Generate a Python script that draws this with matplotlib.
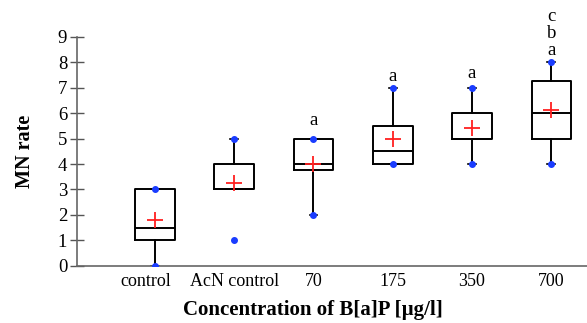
import matplotlib
matplotlib.use("Agg")
import matplotlib.pyplot as plt
from matplotlib.transforms import ScaledTranslation

categories = ['control', 'AcN control', '70', '175', '350', '700']
q1 = [1, 3, 3.75, 4, 5, 5]
medians = [1.5, 3, 4, 4.5, 5, 6]
q3 = [3, 4, 5, 5.5, 6, 7.25]
whis_lo = [0, 3, 2, 4, 4, 4]
whis_hi = [3, 5, 5, 7, 7, 8]
means = [1.8, 3.27, 4.0, 5.0, 5.4, 6.12]
mins = [0, 1, 2, 4, 4, 4]
maxs = [3, 5, 5, 7, 7, 8]
letters = [[], [], ['a'], ['a'], ['a'], ['a', 'b', 'c']]
letter_y = [None, None, 5.72, 7.46, 7.57, 8.48]

plt.rcParams['font.family'] = ['Liberation Serif', 'DejaVu Serif']

fig = plt.figure(figsize=(5.87, 3.23), dpi=100)
ax = fig.add_axes([0.131, 0.177, 0.869, 0.709])

stats = []
for i, c in enumerate(categories):
    stats.append(dict(label=c, q1=q1[i], med=medians[i], q3=q3[i],
                      whislo=whis_lo[i], whishi=whis_hi[i], fliers=[]))
pos = list(range(len(categories)))
ax.bxp(stats, positions=pos, widths=0.5, showfliers=False, showcaps=True,
       capwidths=0.1,
       boxprops=dict(color='black', linewidth=1.4),
       whiskerprops=dict(color='black', linewidth=1.4),
       capprops=dict(color='black', linewidth=1.2),
       medianprops=dict(color='black', linewidth=1.4))

ax.plot(pos, mins, linestyle='none', marker='o', markersize=4, color='#1a3cff', zorder=5)
ax.plot(pos, maxs, linestyle='none', marker='o', markersize=4, color='#1a3cff', zorder=5)
ax.plot(pos, means, linestyle='none', marker='+', markersize=12, markeredgewidth=1.3,
        color='#ff2020', zorder=6)

for i, lst in enumerate(letters):
    for j, t in enumerate(lst):
        ax.annotate(t, (pos[i], letter_y[i]), xytext=(0, j * 12), textcoords='offset points',
                    ha='center', va='center', fontsize=13.5, annotation_clip=False)

ax.set_xlim(-0.984, 5.45)
ax.set_ylim(0, 9)
ax.set_yticks(range(10))
ax.set_xticks(pos)
ax.set_xticklabels(categories)
ax.tick_params(axis='y', direction='inout', length=10, width=1, color='#555555',
               labelsize=13.5, pad=2)
ax.tick_params(axis='x', length=0, labelsize=13, pad=5)
for s in ['top', 'right']:
    ax.spines[s].set_visible(False)
for s in ['left', 'bottom']:
    ax.spines[s].set_color('#666666')
    ax.spines[s].set_linewidth(1.2)

# first tick label sits slightly left of its box in the reference
lbl0 = ax.get_xticklabels()[0]
lbl0.set_transform(lbl0.get_transform() + ScaledTranslation(-0.09, 0, fig.dpi_scale_trans))

ax.set_ylabel('MN rate', fontsize=14.5, fontweight='bold')
ax.yaxis.set_label_coords(-0.083, 0.5)
ax.set_xlabel('Concentration of B[a]P [µg/l]', fontsize=15, fontweight='bold')
ax.xaxis.set_label_coords(0.462, -0.15)

fig.savefig('out.png', dpi=100)
